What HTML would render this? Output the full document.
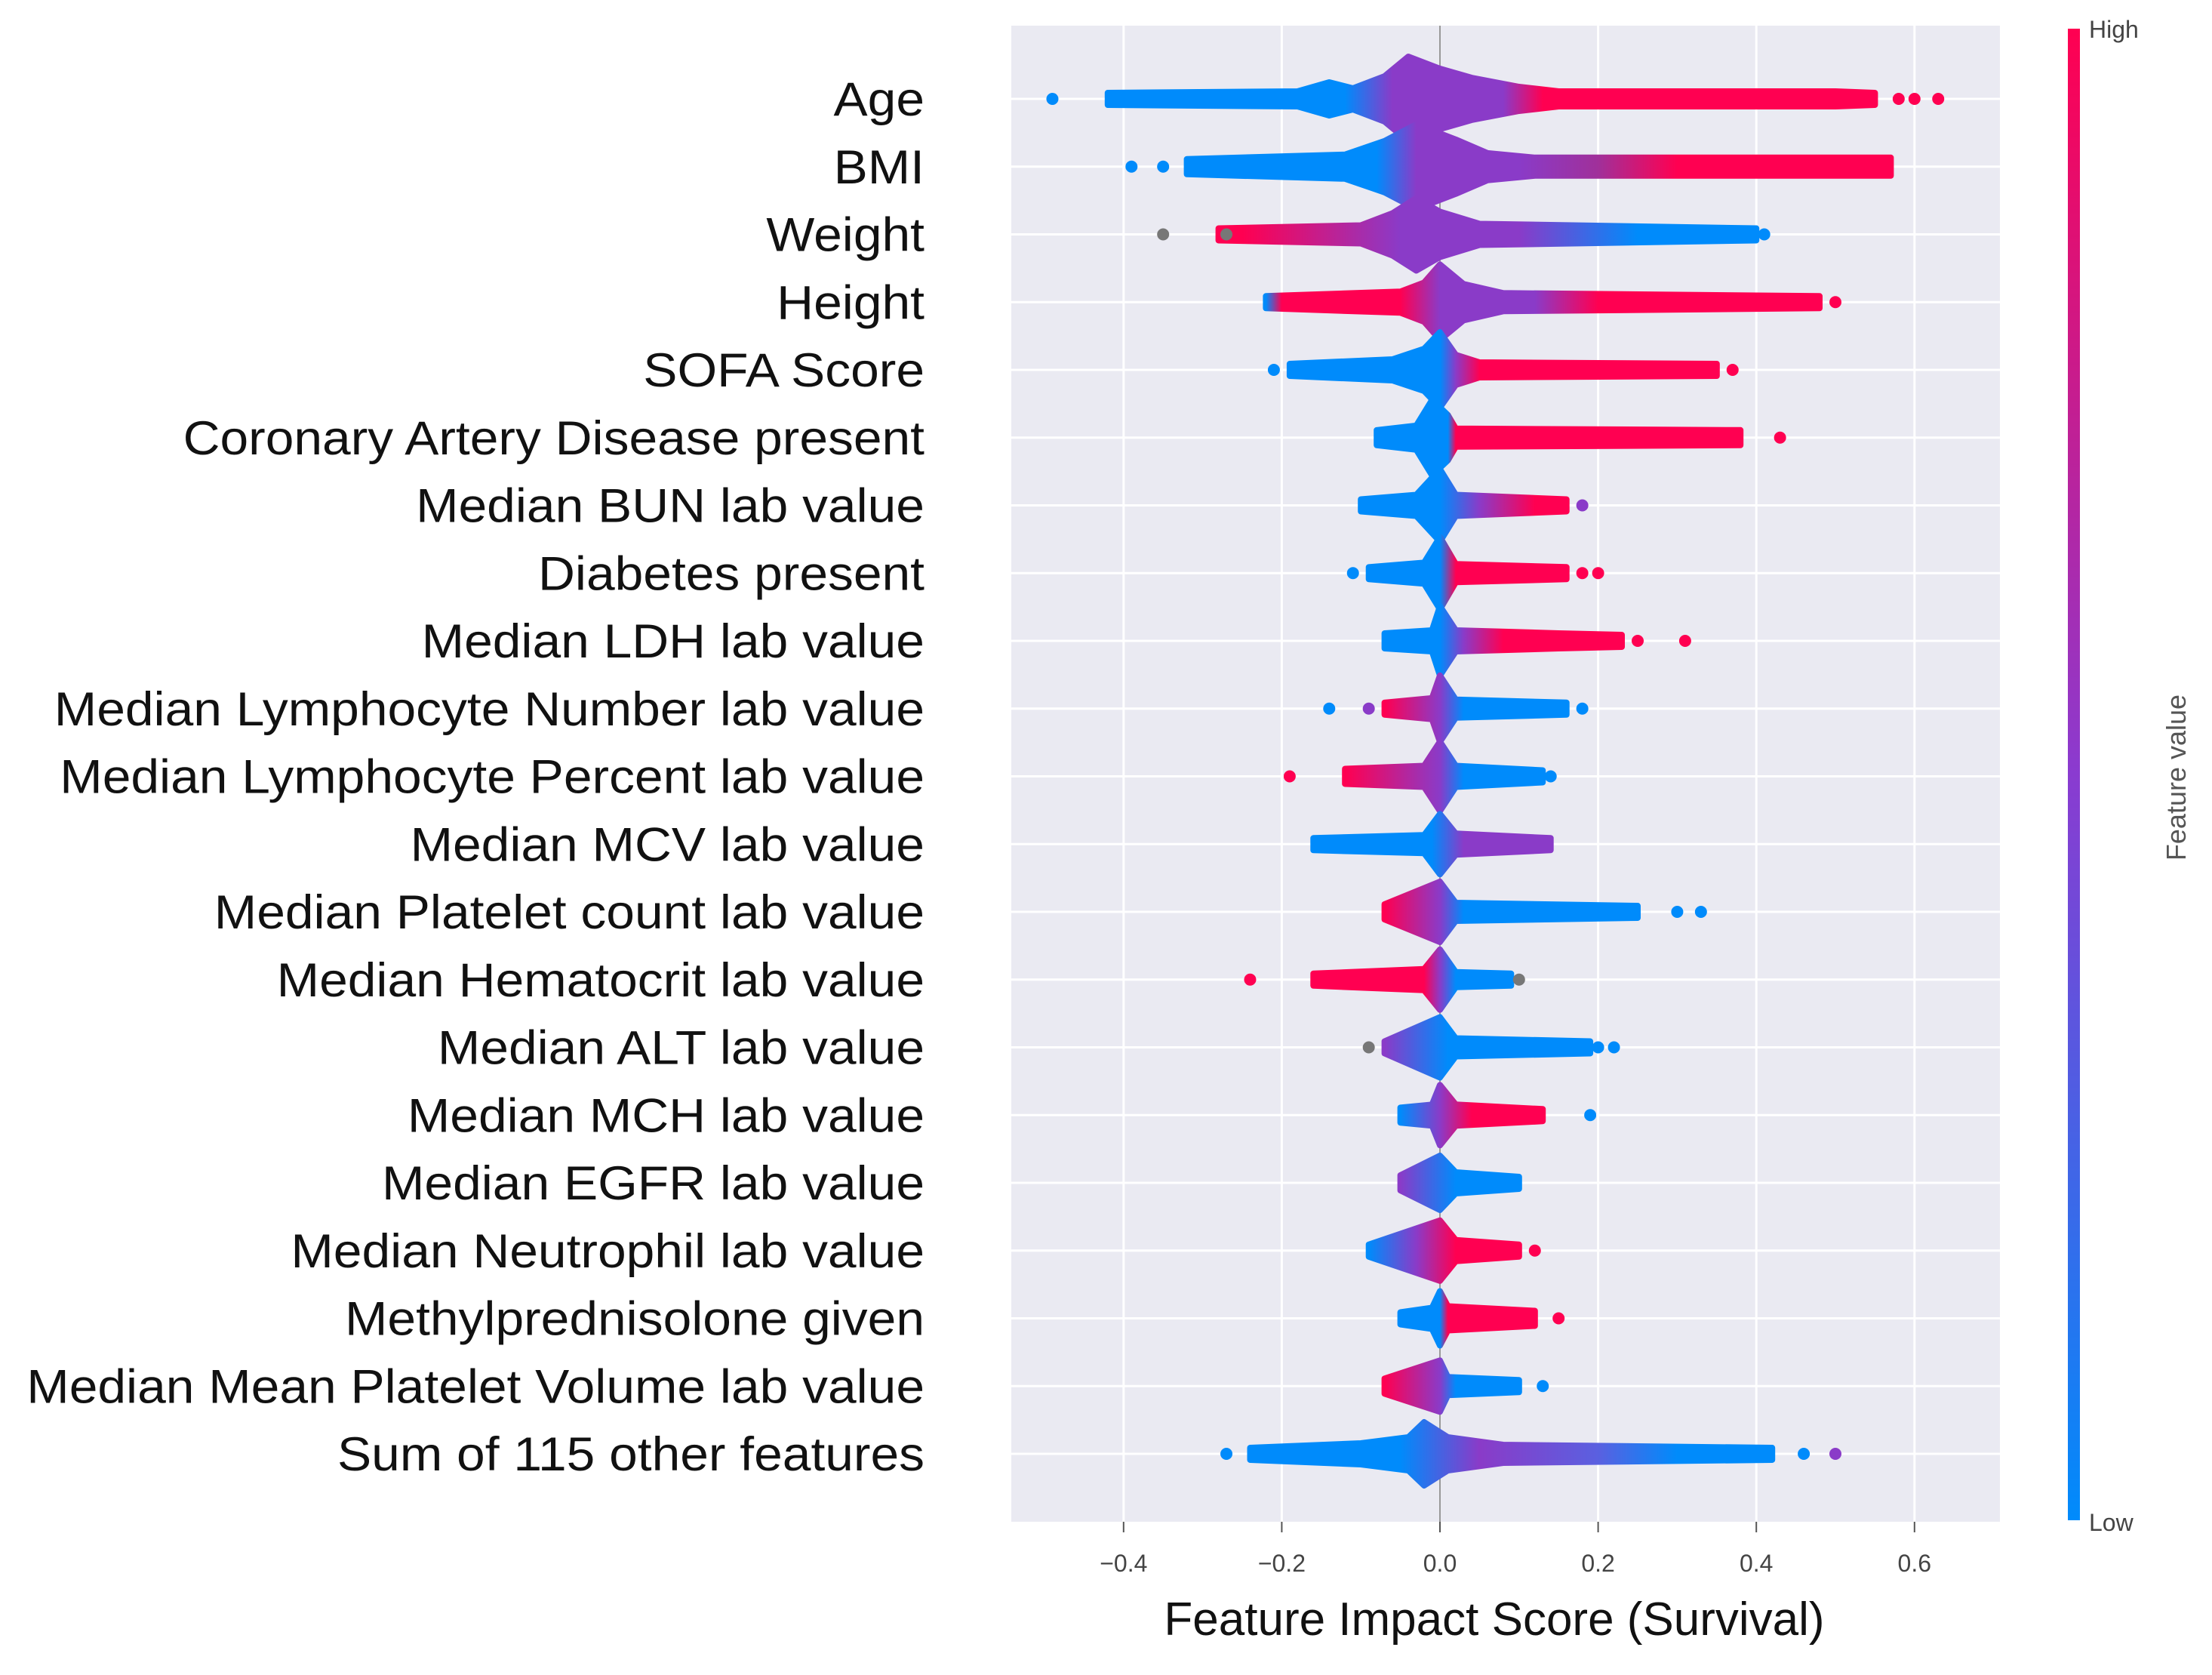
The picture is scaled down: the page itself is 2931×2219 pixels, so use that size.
<!DOCTYPE html>
<html><head><meta charset="utf-8"><style>
html,body{margin:0;padding:0;background:#fff;}
svg{display:block;font-family:"Liberation Sans",sans-serif;}
</style></head>
<body>
<svg id="chart" width="2931" height="2219" viewBox="0 0 2931 2219" xmlns="http://www.w3.org/2000/svg">
<defs>
<linearGradient id="cbgrad" x1="0" y1="1" x2="0" y2="0">
<stop offset="0" stop-color="#008bfb"/><stop offset="0.5" stop-color="#8a3bd0"/><stop offset="1" stop-color="#ff0051"/>
</linearGradient>
</defs>
<rect x="1340" y="34" width="1310" height="1982" fill="#eaeaf2"/>
<g id="grid"></g>
<g id="swarms"></g>
<g id="labels"></g>
<g id="xaxis"></g>
<text x="1980" y="2166" font-size="62" text-anchor="middle" fill="#111">Feature Impact Score (Survival)</text>
<rect x="2740" y="38" width="16" height="1976" fill="url(#cbgrad)"/>
<text x="2768" y="50" font-size="32" fill="#444">High</text>
<text x="2768" y="2028" font-size="32" fill="#444">Low</text>
<text x="2896" y="1030" font-size="36" fill="#555" text-anchor="middle" transform="rotate(-90 2896 1030)">Feature value</text>
</svg>
<script>
const features = ["Age","BMI","Weight","Height","SOFA Score","Coronary Artery Disease present","Median BUN lab value","Diabetes present","Median LDH lab value","Median Lymphocyte Number lab value","Median Lymphocyte Percent lab value","Median MCV lab value","Median Platelet count lab value","Median Hematocrit lab value","Median ALT lab value","Median MCH lab value","Median EGFR lab value","Median Neutrophil lab value","Methylprednisolone given","Median Mean Platelet Volume lab value","Sum of 115 other features"];
const xTicks = [-0.4,-0.2,0.0,0.2,0.4,0.6];
const xTickLabels = ["\u22120.4","\u22120.2","0.0","0.2","0.4","0.6"];
// envelope knots: [impact value, half-height px]
const envelopes = [
 [[-0.42,8],[-0.18,10],[-0.14,22],[-0.11,14],[-0.07,30],[-0.04,56],[0.0,40],[0.04,28],[0.1,16],[0.15,10],[0.5,10],[0.55,8]],
 [[-0.32,10],[-0.12,16],[-0.07,34],[-0.03,56],[0.02,36],[0.06,18],[0.12,12],[0.57,12]],
 [[-0.28,8],[-0.1,12],[-0.06,28],[-0.03,48],[0.0,30],[0.05,14],[0.4,8]],
 [[-0.22,8],[-0.05,14],[-0.02,26],[0.0,50],[0.03,24],[0.08,12],[0.48,8]],
 [[-0.19,8],[-0.06,14],[-0.02,28],[0.0,50],[0.02,20],[0.05,10],[0.35,8]],
 [[-0.08,10],[-0.03,16],[-0.01,50],[0.01,30],[0.02,12],[0.38,10]],
 [[-0.1,8],[-0.03,14],[0.0,48],[0.02,14],[0.16,8]],
 [[-0.09,8],[-0.02,14],[0.0,48],[0.02,12],[0.16,8]],
 [[-0.07,10],[-0.01,14],[0.0,46],[0.02,14],[0.15,10],[0.23,8]],
 [[-0.07,8],[-0.01,14],[0.0,44],[0.02,12],[0.16,8]],
 [[-0.12,10],[-0.02,14],[0.0,46],[0.02,14],[0.13,8]],
 [[-0.16,8],[-0.02,12],[0.0,40],[0.02,14],[0.14,8]],
 [[-0.07,10],[0.0,40],[0.02,12],[0.25,8]],
 [[-0.16,8],[-0.02,14],[0.0,40],[0.02,10],[0.09,8]],
 [[-0.07,8],[0.0,40],[0.02,12],[0.19,8]],
 [[-0.05,10],[-0.01,14],[0.0,40],[0.02,14],[0.13,8]],
 [[-0.05,10],[0.0,36],[0.02,14],[0.1,8]],
 [[-0.09,8],[0.0,40],[0.02,14],[0.1,8]],
 [[-0.05,8],[-0.01,14],[0.0,36],[0.01,16],[0.12,10]],
 [[-0.07,10],[0.0,34],[0.01,12],[0.1,8]],
 [[-0.24,8],[-0.1,14],[-0.04,22],[-0.02,42],[0.01,22],[0.08,12],[0.42,8]]
];
const B="#008bfb",R="#ff0051",P="#8a3bc8",G="#777777";
// colour stops along impact value: [value, colour]
const colorStops = [
 [[-0.42,B],[-0.12,B],[-0.06,P],[0.08,P],[0.13,R]],
 [[-0.32,B],[-0.08,B],[-0.03,P],[0.1,P],[0.2,"#a0309a"],[0.3,R]],
 [[-0.25,R],[-0.05,P],[0.1,P],[0.25,B],[0.4,B]],
 [[-0.22,B],[-0.2,R],[-0.05,R],[0.0,P],[0.12,P],[0.2,R]],
 [[-0.19,B],[0.0,B],[0.02,P],[0.05,R]],
 [[-0.08,B],[0.01,B],[0.02,R]],
 [[-0.1,B],[0.0,B],[0.05,P],[0.12,R]],
 [[-0.09,B],[0.0,B],[0.02,R]],
 [[-0.07,B],[0.0,B],[0.03,P],[0.08,R]],
 [[-0.07,R],[0.0,P],[0.03,B]],
 [[-0.12,R],[0.0,P],[0.03,B]],
 [[-0.16,B],[-0.01,B],[0.03,P],[0.14,P]],
 [[-0.07,R],[0.0,P],[0.03,B]],
 [[-0.16,R],[-0.02,R],[0.0,P],[0.02,B]],
 [[-0.07,P],[0.01,B]],
 [[-0.05,B],[0.0,P],[0.04,R]],
 [[-0.05,P],[0.02,B]],
 [[-0.09,B],[-0.03,P],[0.02,R]],
 [[-0.05,B],[0.0,B],[0.01,R]],
 [[-0.07,R],[0.0,P],[0.02,B]],
 [[-0.24,B],[-0.05,B],[0.05,P],[0.2,"#5a60e0"],[0.3,B]]
];
// isolated outlier dots: [value, colour]
const outliers = [
 [[-0.49,B],[0.58,R],[0.60,R],[0.63,R]],
 [[-0.39,B],[-0.35,B]],
 [[-0.35,G],[-0.27,G],[0.41,B]],
 [[0.50,R]],
 [[-0.21,B],[0.37,R]],
 [[0.43,R]],
 [[0.18,P]],
 [[-0.11,B],[0.18,R],[0.20,R]],
 [[0.25,R],[0.31,R]],
 [[-0.14,B],[-0.09,P],[0.18,B]],
 [[-0.19,R],[0.14,B]],
 [],
 [[0.30,B],[0.33,B]],
 [[-0.24,R],[0.10,G]],
 [[-0.09,G],[0.20,B],[0.22,B]],
 [[0.19,B]],
 [],
 [[0.12,R]],
 [[0.15,R]],
 [[0.13,B]],
 [[-0.27,B],[0.46,B],[0.50,P]]
];
const NS="http://www.w3.org/2000/svg";
const xOf = v => 1908 + v*1048;
const yOf = i => 131 + i*89.75;
const grid=document.getElementById('grid'), sw=document.getElementById('swarms'), lab=document.getElementById('labels'), xa=document.getElementById('xaxis');
const defs=document.querySelector('defs');
function mk(tag,attrs,parent){const e=document.createElementNS(NS,tag);for(const k in attrs)e.setAttribute(k,attrs[k]);parent.appendChild(e);return e;}
xTicks.forEach((t,i)=>{
 const g=mk('line',{x1:xOf(t),x2:xOf(t),y1:34,y2:2016,stroke:t===0?'#999':'#fff','stroke-width':t===0?2:3},grid);
 
 
 const tk=mk('line',{x1:xOf(t),x2:xOf(t),y1:2016,y2:2030,stroke:'#555','stroke-width':2},xa);
 
 
 const tl=mk('text',{x:xOf(t),y:2082,'font-size':32,'text-anchor':'middle',fill:'#444'},xa);
 tl.textContent=xTickLabels[i];
 
 
});
features.forEach((f,i)=>{
 const y=yOf(i);
 const hl=mk('line',{x1:1340,x2:2650,y1:y,y2:y,stroke:'#fff','stroke-width':3},grid);
 
 
 const t=mk('text',{x:1225,y:y+22,'font-size':63,'text-anchor':'end',fill:'#111'},lab);
 t.textContent=f;
 
 
 const w=t.getComputedTextLength();
 t.setAttribute('textLength',(w*1.075).toFixed(1));
 t.setAttribute('lengthAdjust','spacingAndGlyphs');
 const cs=colorStops[i], env=envelopes[i];
 const x0=xOf(env[0][0]), x1=xOf(env[env.length-1][0]);
 const gr=mk('linearGradient',{id:'g'+i,gradientUnits:'userSpaceOnUse',x1:x0,x2:x1,y1:0,y2:0},defs);
 cs.forEach(s=>{const off=Math.min(1,Math.max(0,(xOf(s[0])-x0)/(x1-x0||1)));mk('stop',{offset:off.toFixed(4),'stop-color':s[1]},gr);});
 let top='',bot='';
 env.forEach((k,j)=>{top+=(j?'L':'M')+xOf(k[0]).toFixed(1)+','+(y-k[1]).toFixed(1);});
 for(let j=env.length-1;j>=0;j--){bot+='L'+xOf(env[j][0]).toFixed(1)+','+(y+env[j][1]).toFixed(1);}
 const p=mk('path',{d:top+bot+'Z',fill:'url(#g'+i+')',stroke:'url(#g'+i+')','stroke-width':8,'stroke-linejoin':'round'},sw);
 
 
 outliers[i].forEach(o=>{
  const c=mk('circle',{cx:xOf(o[0]),cy:y,r:8,fill:o[1]},sw);
  
  
 });
});
</script>
</body></html>
